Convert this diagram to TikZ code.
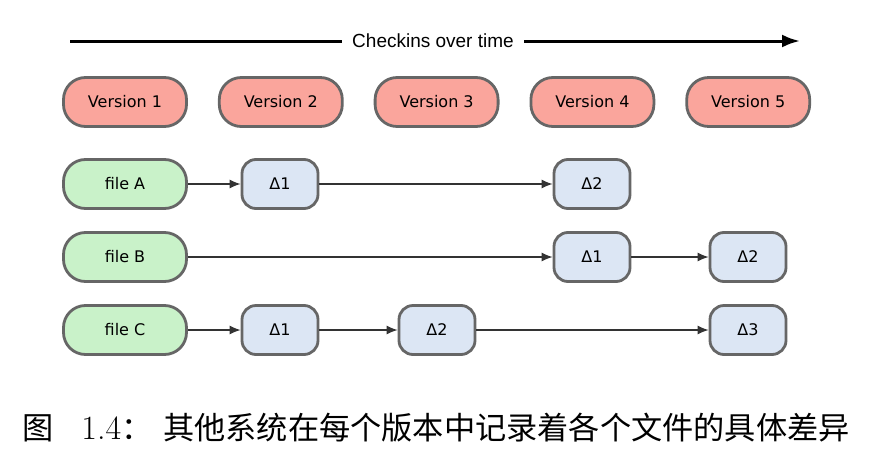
\documentclass[tikz,border=0pt]{standalone}
\usepackage{fontspec}
\usepackage{tikz}
\usetikzlibrary{arrows.meta,positioning,calc}
\newfontfamily\boxfont{DejaVu Sans}
\newfontfamily\timefont{Liberation Sans}
\newfontfamily\cjk{Noto Sans CJK SC}
\definecolor{cvRed}{HTML}{FAA59C}
\definecolor{cvGreen}{HTML}{C9F2C9}
\definecolor{cvBlue}{HTML}{DCE6F4}
\definecolor{cvEdge}{HTML}{666666}

\begin{document}
\begin{tikzpicture}[x=1pt,y=-1pt,>={Latex[length=11pt,width=9pt]},
  every node/.style={font=\boxfont\fontsize{16}{18}\selectfont},
  bigbox/.style={draw=cvEdge,line width=2.8pt,rounded corners=22pt,minimum width=123pt,minimum height=49pt,inner sep=0pt},
  verbox/.style={bigbox,fill=cvRed},
  filebox/.style={bigbox,fill=cvGreen},
  deltabox/.style={draw=cvEdge,line width=2.8pt,rounded corners=14pt,fill=cvBlue,minimum width=76pt,minimum height=49pt,inner sep=0pt},
  link/.style={->,draw=black!80,line width=1.2pt}]
  \useasboundingbox (0,0) rectangle (872,458);
  % time line
  \coordinate (tS) at (70,41);
  \coordinate (tE) at (800,41);
  \draw[line width=3pt,-{Latex[length=18pt,width=13pt]}] (tS) -- (tE);
  \node[fill=white,inner xsep=10pt,font=\timefont\fontsize{19}{21}\selectfont] (tL) at (433,41) {Checkins over time};
  % versions
  \foreach \k in {1,...,5}{
    \node[verbox] (V\k) at ({125+155.8*(\k-1)},102) {Version \k};
  }
  % files
  \node[filebox] (fA) at (125,184) {file A};
  \node[filebox] (fB) at (125,257) {file B};
  \node[filebox] (fC) at (125,330) {file C};
  % deltas
  \node[deltabox] (dA1) at (280,184) {Δ1};
  \node[deltabox] (dA2) at (592,184) {Δ2};
  \node[deltabox] (dB1) at (592,257) {Δ1};
  \node[deltabox] (dB2) at (748,257) {Δ2};
  \node[deltabox] (dC1) at (280,330) {Δ1};
  \node[deltabox] (dC2) at (437,330) {Δ2};
  \node[deltabox] (dC3) at (748,330) {Δ3};
  \draw[link] (fA) -- (dA1);
  \draw[link] (dA1) -- (dA2);
  \draw[link] (fB) -- (dB1);
  \draw[link] (dB1) -- (dB2);
  \draw[link] (fC) -- (dC1);
  \draw[link] (dC1) -- (dC2);
  \draw[link] (dC2) -- (dC3);
  % caption
  \node[anchor=west,inner sep=0pt,font=\normalfont\fontsize{31.2}{34}\selectfont] (cap) at (22,428)
    {{\cjk 图}\hspace{28pt}{\fontsize{34}{36}\selectfont 1.4}{\cjk ：}\hspace{11pt}{\cjk 其他系统在每个版本中记录着各个文件的具体差异}};
\end{tikzpicture}
\end{document}
